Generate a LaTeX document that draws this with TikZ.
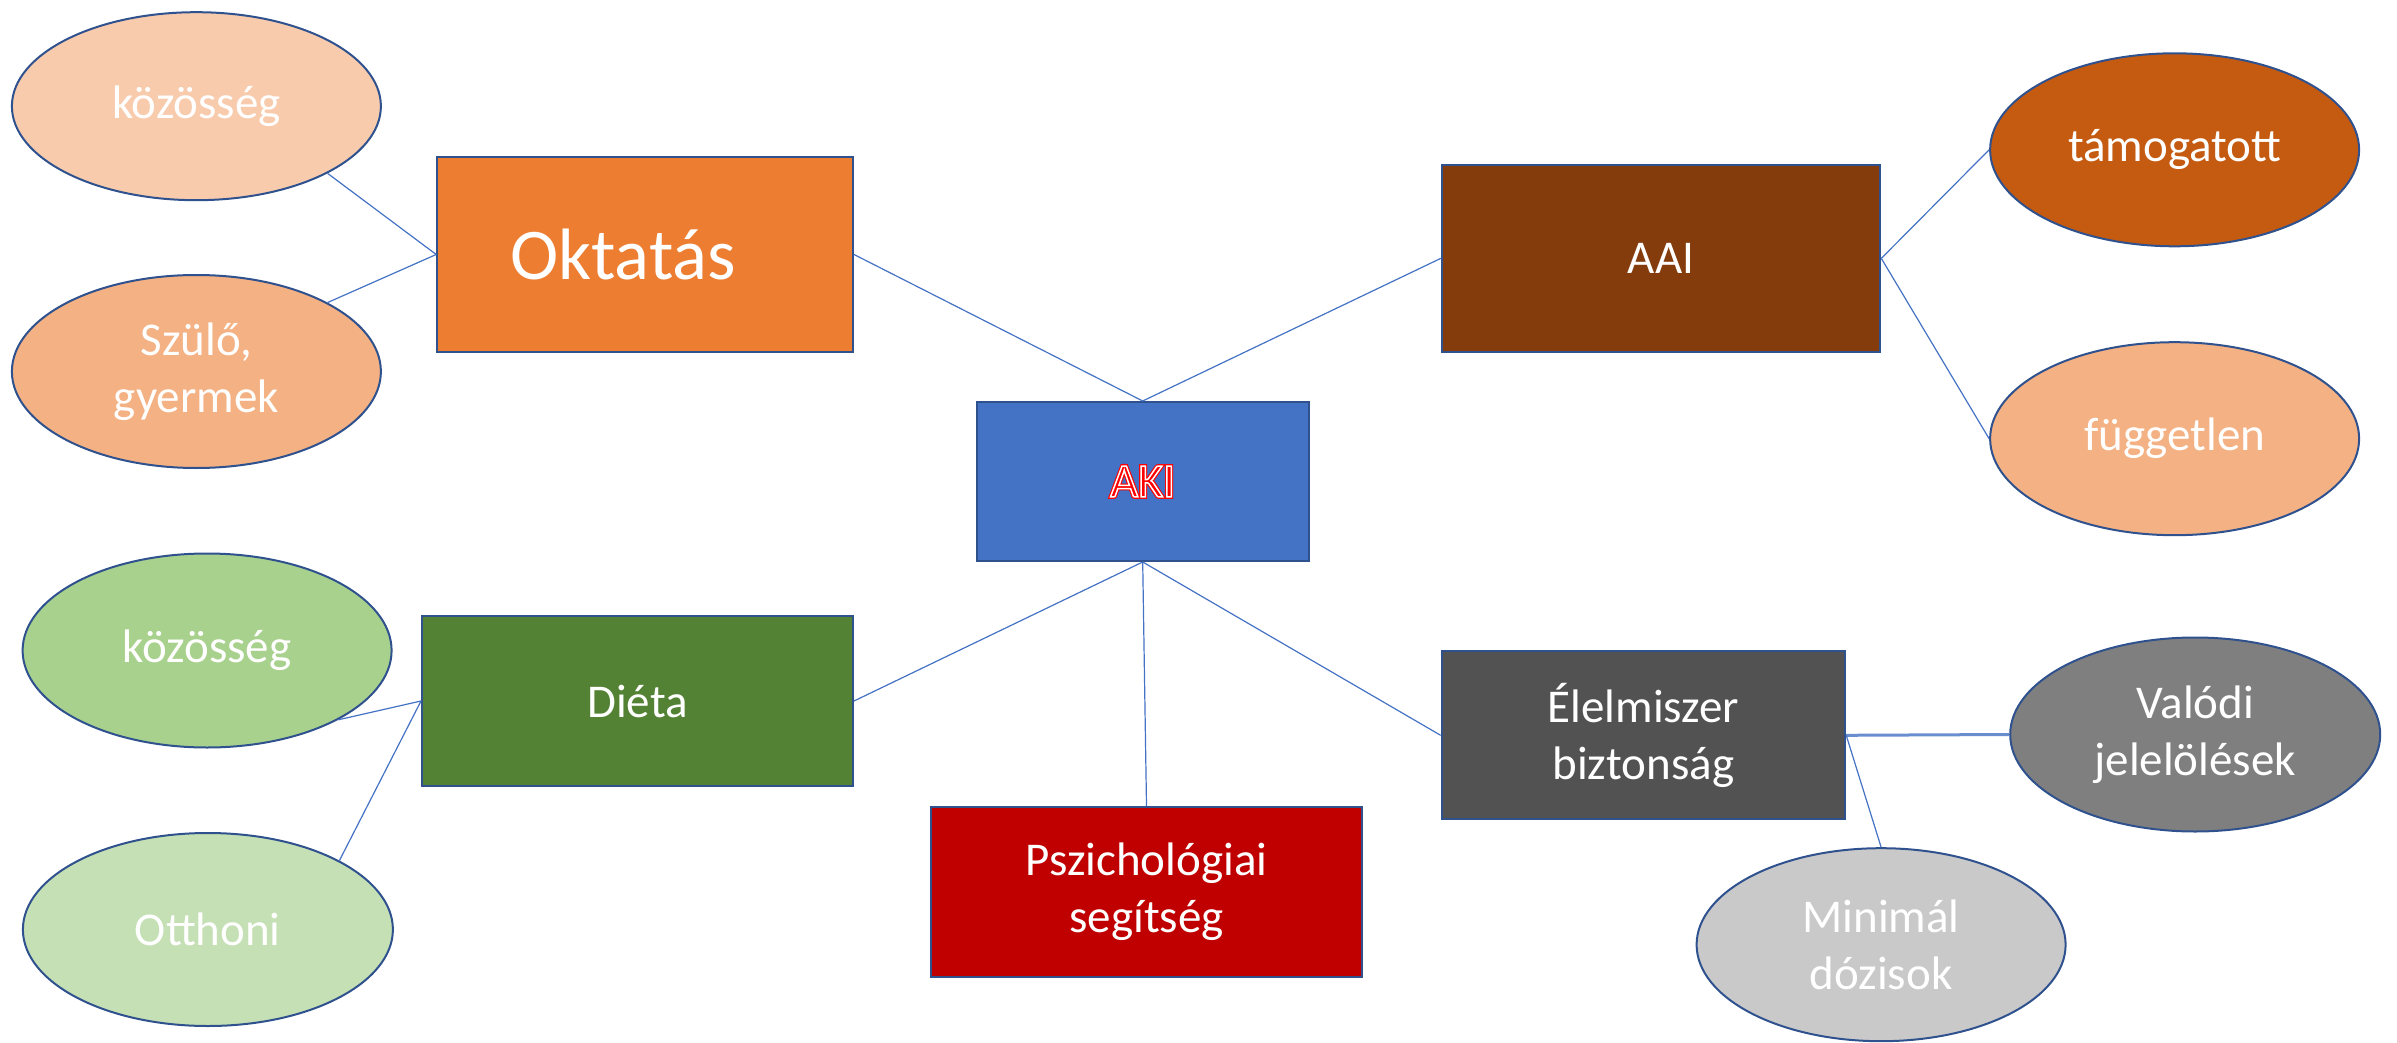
\documentclass[tikz,border=0pt]{standalone}
\usepackage{fontspec}
\setmainfont{Carlito}
\usetikzlibrary{shapes.geometric,calc}
\definecolor{bord}{HTML}{2F528F}
\definecolor{linkc}{HTML}{4472C4}
\definecolor{oktc}{HTML}{ED7D31}
\definecolor{akic}{HTML}{4472C4}
\definecolor{aaic}{HTML}{843C0C}
\definecolor{dietc}{HTML}{548235}
\definecolor{pszc}{HTML}{C00000}
\definecolor{elc}{HTML}{525252}
\definecolor{kozac}{HTML}{F8CBAD}
\definecolor{szuc}{HTML}{F4B183}
\definecolor{tamc}{HTML}{C55A11}
\definecolor{fugc}{HTML}{F4B183}
\definecolor{kozbc}{HTML}{A9D18E}
\definecolor{otc}{HTML}{C5E0B4}
\definecolor{valc}{HTML}{7F7F7F}
\definecolor{minc}{HTML}{C9C9C9}
\definecolor{akired}{HTML}{FF0000}
\newcommand{\akioutline}[1]{%
  \special{pdf:literal direct 1 Tr 1.9 w 1 0 0 RG}\rlap{#1}%
  \special{pdf:literal direct 2 Tr 0.75 w 1 1 1 RG}#1%
  \special{pdf:literal direct 0 Tr}}
\begin{document}
\begin{tikzpicture}[x=0.5pt,y=-0.5pt,
  box/.style={draw=bord, line width=1pt, inner sep=0pt, text=white,
    font=\fontsize{23.5}{28.7}\selectfont, align=center},
  oval/.style={ellipse, draw=bord, line width=1pt, inner sep=0pt, text=white,
    font=\fontsize{23.5}{28.7}\selectfont, align=center,
    minimum width=184.5pt, minimum height=96.5pt},
  link/.style={draw=linkc, line width=0.6pt},
  akitxt/.style={inner sep=0pt, font=\fontsize{24}{29}\selectfont}]
\useasboundingbox (0,0) rectangle (2397,1043);

% boxes
\node[box, fill=oktc, minimum width=207.9pt, minimum height=97pt,
  font=\fontsize{36.4}{44}\selectfont] (okt) at (645.1,254.5) {\hbox{Oktatás\hspace{22pt}}};
\node[box, fill=akic, minimum width=165.9pt, minimum height=79.5pt] (aki) at (1142.7,481.5) {};
\node[box, fill=aaic, minimum width=219.3pt, minimum height=93.3pt] (aai) at (1661,258.4) {AAI};
\node[box, fill=dietc, minimum width=215.5pt, minimum height=84.9pt] (diet) at (637.5,701) {Diéta};
\node[box, fill=pszc, minimum width=215.5pt, minimum height=84.9pt] (psz) at (1146.5,892) {Pszichológiai\\segítség};
\node[box, fill=elc, minimum width=201.8pt, minimum height=84.1pt] (elel) at (1643.4,735.3) {Élelmiszer\\biztonság};

% AKI label: red text with white outline
\node[akitxt, text=akired] (akit) at (aki.center) {\akioutline{AKI}};

% ellipses
\node[oval, fill=kozac, minimum height=94pt] (koza) at (196.4,106.2) {közösség};
\node[oval, fill=szuc] (szu) at (196.4,371.5) {Szülő,\\gyermek};
\node[oval, fill=tamc] (tam) at (2174.6,149.8) {támogatott};
\node[oval, fill=fugc] (fug) at (2174.6,438.7) {független};
\node[oval, fill=kozbc, minimum height=97pt] (kozb) at (207.1,650.5) {közösség};
\node[oval, fill=otc, minimum width=185pt] (ott) at (207.9,929.5) {Otthoni};
\node[oval, fill=valc, minimum width=185pt, minimum height=97pt] (val) at (2195.2,734.5) {Valódi\\jelelölések};
\node[oval, fill=minc] (mini) at (1881.1,944.7) {Minimál\\dózisok};

% connectors
\draw[link] (koza.south east) -- (okt.west);
\draw[link] (szu.north east) -- (okt.west);
\draw[link] (okt.east) -- (aki.north);
\draw[link] (aai.west) -- (aki.north);
\draw[link] (aai.east) -- (tam.west);
\draw[link] (aai.east) -- (fug.west);
\draw[link] (aki.south) -- (diet.east);
\draw[link] (aki.south) -- (psz.north);
\draw[link] (aki.south) -- (elel.west);
\draw[link] (diet.west) -- (kozb.south east);
\draw[link] (diet.west) -- (ott.north east);
\draw[link, line width=1.5pt, draw=linkc!80] (elel.east) -- (val.west);
\draw[link] (elel.east) -- (mini.north);
\end{tikzpicture}
\end{document}
